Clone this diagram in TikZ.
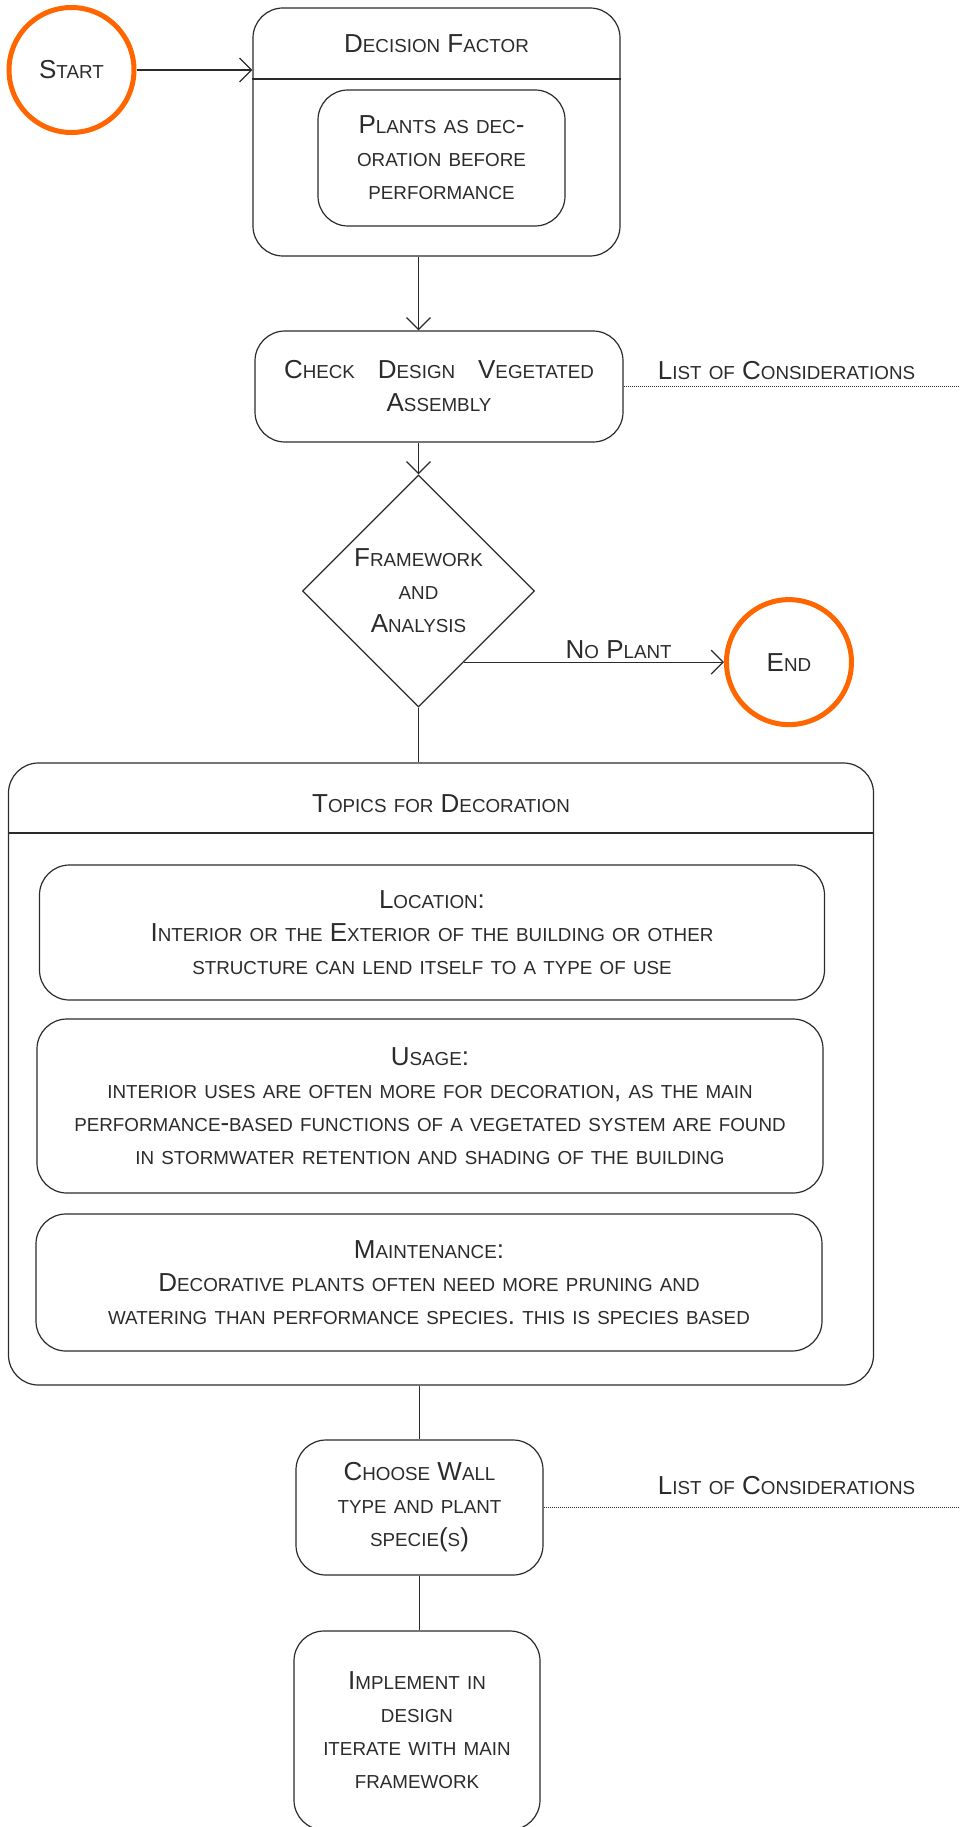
\documentclass[tikz,border=0pt]{standalone}
\usepackage{fontspec}
\setmainfont{Liberation Sans}
\usetikzlibrary{shapes.geometric, positioning, calc, arrows.meta}
\definecolor{termorange}{HTML}{FF6600}
\definecolor{inkgray}{HTML}{2B2B2B}

% capitals at full size, lower case as smaller capitals; \\ breaks lines
\ExplSyntaxOn
\seq_new:N \l__fsc_lines_seq
\bool_new:N \l__fsc_first_bool
\cs_new_protected:Npn \__fsc_line:n #1
  {
    \str_map_inline:nn {#1}
      {
        \str_if_eq:eeTF {##1} { \str_uppercase:n {##1} }
          { ##1 }
          { { \fontsize{18.8}{33}\selectfont \str_uppercase:n {##1} } }
      }
  }
\NewDocumentCommand \fsc { m }
  {
    \seq_set_split:Nnn \l__fsc_lines_seq { \\ } {#1}
    \bool_set_true:N \l__fsc_first_bool
    \seq_map_inline:Nn \l__fsc_lines_seq
      {
        \bool_if:NF \l__fsc_first_bool { \\ }
        \bool_set_false:N \l__fsc_first_bool
        \__fsc_line:n {##1}
      }
  }
\ExplSyntaxOff

\begin{document}
\begin{tikzpicture}[
    x=1pt, y=-1pt,
    every node/.style={font=\fontsize{26}{33}\selectfont, text=inkgray},
    box/.style={rectangle, draw=inkgray, line width=1.2pt, rounded corners=30pt, align=center},
    terminal/.style={circle, draw=termorange, line width=5pt, minimum size=125pt},
    choice/.style={diamond, draw=inkgray, line width=1.2pt, minimum size=232pt, inner sep=0pt, align=center},
    arrow/.style={draw=inkgray, line width=1.2pt, -{Straight Barb[length=12pt,width=24pt]}},
    link/.style={draw=inkgray, line width=1.2pt},
    note/.style={draw=inkgray, line width=0.8pt, dash pattern=on 1pt off 1pt}
]
\useasboundingbox (0,0) rectangle (959,1827);
\coordinate (rightedge) at (959,0);

% Nodes
\node[terminal] (start) at (71.5,70) {\fsc{Start}};

\node[box, minimum width=367pt, minimum height=248pt] (decision) at (436.5,132) {};
\node (decisiontitle) at (436.5,44) {\fsc{Decision Factor}};
\node[box, minimum width=247pt, minimum height=136pt] (plants) at (441.5,158) {\fsc{Plants as dec-\\oration before\\performance}};

\node[box, minimum width=368pt, minimum height=111pt] (check) at (439,386.5) {\makebox[310pt][s]{\fsc{Check Design Vegetated}}\\\fsc{Assembly}};
\node[anchor=base] (consider1) at (786.5,379) {\fsc{List of Considerations}};

\node[choice] (framework) at (418.5,591) {\fsc{Framework\\and\\Analysis}};
\coordinate (noplant) at ($(framework.south)!0.39!(framework.east)$);
\node[terminal, right=260pt of noplant] (end) {\fsc{End}};

\node[box, minimum width=865pt, minimum height=622pt] (topics) at (441,1074) {};
\node (topicstitle) at (441,804) {\fsc{Topics for Decoration}};
\node[box, minimum width=785pt, minimum height=135pt] (location) at (432,932.5) {\fsc{Location:\\Interior or the Exterior of the building or other\\structure can lend itself to a type of use}};
\node[box, minimum width=786pt, minimum height=174pt] (usage) at (430,1106) {\fsc{Usage:\\interior uses are often more for decoration, as the main\\performance-based functions of a vegetated system are found\\in stormwater retention and shading of the building}};
\node[box, minimum width=786pt, minimum height=137pt] (maintenance) at (429,1282.5) {\fsc{Maintenance:\\Decorative plants often need more pruning and\\watering than performance species. this is species based}};

\node[box, minimum width=247pt, minimum height=135pt] (choose) at (419.5,1507.5) {\fsc{Choose Wall\\type and plant\\specie(s)}};
\node[anchor=base] (consider2) at (786.5,1494) {\fsc{List of Considerations}};

\node[box, minimum width=246pt, minimum height=199pt] (implement) at (417,1730.5) {\fsc{Implement in\\design\\iterate with main\\framework}};

% Header rules
\draw[link] (decision.west |- 0,79) -- (decision.east |- 0,79);
\draw[link] (topics.west |- 0,833) -- (topics.east |- 0,833);

% Arrows
\draw[arrow] (start.east) -- (start -| decision.west);
\draw[arrow] (decision.south -| framework.north) -- (check.north -| framework.north);
\draw[arrow] (check.south -| framework.north) -- (framework.north);
\draw[arrow] (noplant) -- node[above, pos=0.595] {\fsc{No Plant}} (end.west);
\draw[link] (framework.south) -- (framework.south |- topics.north);
\draw[link] (topics.south -| choose.north) -- (choose.north);
\draw[link] (choose.south) -- (choose.south |- implement.north);

% Dotted leaders
\draw[note] (check.east) -- (check.east -| rightedge);
\draw[note] (choose.east) -- (choose.east -| rightedge);

\end{tikzpicture}
\end{document}
